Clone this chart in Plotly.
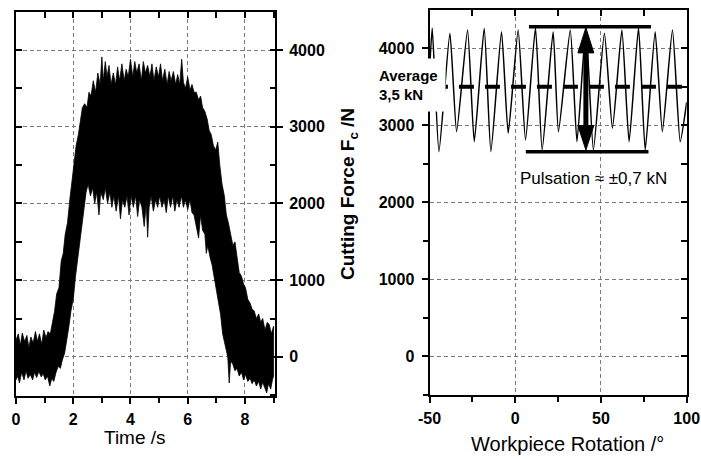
import plotly.graph_objects as go

W, H = 701, 459
FONT = "Liberation Sans, Arial, sans-serif"

# ---------------- Left panel: cutting force vs time (envelope of the noisy signal)
time_upper = [0.00, 0.08, 0.15, 0.22, 0.30, 0.38, 0.45, 0.52, 0.60, 0.68, 0.75, 0.82, 0.90, 0.97,
              1.05, 1.12, 1.20, 1.28, 1.35, 1.42, 1.50, 1.58, 1.65, 1.72, 1.80, 1.88, 1.95, 2.02,
              2.10, 2.18, 2.25, 2.32, 2.40, 2.48, 2.55, 2.62, 2.70, 2.78, 2.86, 2.94, 3.00, 3.05,
              3.12, 3.18, 3.25, 3.32, 3.40, 3.48, 3.55, 3.62, 3.70, 3.78, 3.85, 3.92, 4.00, 4.08,
              4.15, 4.22, 4.30, 4.38, 4.45, 4.52, 4.60, 4.68, 4.75, 4.82, 4.90, 4.98, 5.05, 5.12,
              5.20, 5.28, 5.35, 5.42, 5.50, 5.58, 5.65, 5.72, 5.79, 5.85, 5.92, 6.00, 6.08, 6.15,
              6.22, 6.30, 6.38, 6.45, 6.52, 6.60, 6.68, 6.75, 6.82, 6.90, 6.98, 7.05, 7.12, 7.20,
              7.28, 7.35, 7.42, 7.50, 7.58, 7.65, 7.72, 7.80, 7.88, 7.95, 8.02, 8.10, 8.18, 8.25,
              8.32, 8.40, 8.48, 8.55, 8.62, 8.70, 8.78, 8.85, 8.92, 9.00]
force_upper = [220, 300, 150, 310, 200, 280, 120, 260, 180, 330, 200, 300, 160, 350,
               250, 330, 300, 480, 600, 820, 900, 1250, 1350, 1600, 1750, 2050, 2250, 2500,
               2750, 2900, 3050, 3250, 3300, 3250, 3450, 3400, 3600, 3450, 3700, 3550, 3910, 3600,
               3850, 3650, 3800, 3550, 3700, 3550, 3780, 3600, 3820, 3600, 3750, 3650, 3880, 3650,
               3850, 3700, 3820, 3600, 3850, 3700, 3800, 3650, 3820, 3600, 3780, 3650, 3820, 3600,
               3750, 3550, 3720, 3600, 3720, 3550, 3680, 3550, 3880, 3580, 3500, 3650, 3480, 3550,
               3450, 3450, 3350, 3400, 3250, 3200, 3100, 2950, 2900, 2750, 2700, 2800, 2500, 2250,
               2100, 1850, 1750, 1600, 1450, 1500, 1300, 1100, 1050, 950, 900, 750, 700, 620,
               600, 500, 560, 450, 500, 350, 450, 420, 300, 400]

time_lower = [0.00, 0.06, 0.12, 0.20, 0.28, 0.35, 0.42, 0.50, 0.58, 0.65, 0.72, 0.80, 0.88, 0.95,
              1.02, 1.10, 1.18, 1.25, 1.32, 1.40, 1.48, 1.55, 1.62, 1.70, 1.78, 1.85, 1.92, 2.00,
              2.08, 2.15, 2.22, 2.30, 2.38, 2.45, 2.52, 2.60, 2.68, 2.75, 2.82, 2.90, 2.96, 3.05,
              3.12, 3.20, 3.28, 3.35, 3.42, 3.50, 3.58, 3.65, 3.72, 3.80, 3.88, 3.95, 4.02, 4.10,
              4.18, 4.25, 4.32, 4.40, 4.48, 4.55, 4.60, 4.65, 4.72, 4.80, 4.88, 4.95, 5.02, 5.10,
              5.18, 5.25, 5.32, 5.40, 5.48, 5.55, 5.62, 5.70, 5.78, 5.85, 5.92, 6.00, 6.08, 6.15,
              6.22, 6.30, 6.38, 6.45, 6.52, 6.60, 6.65, 6.70, 6.78, 6.85, 6.92, 7.00, 7.08, 7.15,
              7.22, 7.30, 7.40, 7.45, 7.50, 7.58, 7.65, 7.72, 7.80, 7.88, 7.95, 8.02, 8.10, 8.18,
              8.25, 8.32, 8.40, 8.48, 8.55, 8.62, 8.70, 8.76, 8.82, 8.90, 8.96, 9.00]
force_lower = [-300, -250, -340, -200, -300, -180, -280, -230, -300, -200, -270, -190, -260, -220,
               -300, -250, -380, -280, -320, -200, -120, -150, -40, 50, 250, 400, 600, 750,
               1050, 1250, 1450, 1700, 1950, 2150, 2250, 2100, 2200, 2000, 2150, 1850, 2150, 2050,
               2200, 2000, 2150, 1950, 2100, 1900, 2100, 1800, 2050, 1950, 2100, 1850, 2100, 1950,
               2100, 1830, 2050, 1950, 1700, 2000, 1560, 1950, 2100, 1900, 2050, 1950, 2100, 1950,
               2050, 1880, 2100, 1950, 2100, 1900, 2050, 1950, 2100, 1950, 2050, 1920, 2050, 1880,
               1850, 1700, 1550, 1850, 1650, 1600, 1350, 1450, 1300, 1200, 1050, 900, 700, 550,
               300, 150, 0, -340, -50, -100, -180, -150, -250, -200, -300, -230, -320, -280,
               -350, -300, -380, -320, -420, -330, -400, -470, -350, -420, -300, -250]

# ---------------- Right panel: cutting force vs workpiece rotation
rotation = [-50, -48.4, -44.5, -38.1, -34.2, -27.8, -23.9, -18.1, -14.2, -8.0, -4.1, 1.7, 6.0,
            11.8, 15.7, 22.1, 25.2, 32.1, 36.0, 41.2, 45.6, 52.0, 56.7, 62.2, 66.4, 71.9, 75.8,
            81.6, 85.8, 91.7, 96.2, 100]
force_rot = [3700, 4260, 2657, 4195, 2917, 4238, 2787, 4260, 2657, 4216, 2896, 4238, 2809,
             4268, 2679, 4216, 2917, 4238, 2787, 4260, 2679, 4195, 2961, 4238, 2787, 4268, 2679,
             4216, 2917, 4238, 2787, 3300]

average_force = 3500
pulsation_max = 4280
pulsation_min = 2657

time_ticks = [0, 2, 4, 6, 8]
force_ticks = [0, 1000, 2000, 3000, 4000]
rot_ticks = [-50, 0, 50, 100]
rot_ticklabels = ["-50", "0", "50", "100"]


def px(xp):
    return xp / W


def py(yp):
    return 1 - yp / H


LEFT_DOM = [px(16), px(275)]
LEFT_YDOM = [py(396), py(12)]
RIGHT_DOM = [px(429.5), px(686.7)]
RIGHT_YDOM = [py(395), py(10)]
TRANGE = [0, 9.05]
FRANGE_L = [-510, 4496]
RRANGE = [-50, 100]
FRANGE_R = [-503, 4497]

tickfont = dict(family=FONT, size=16, color="black", weight="bold")
GRID = dict(showgrid=True, gridcolor="#7a7a7a", gridwidth=1, griddash="4px,3px")

fig = go.Figure()
fig.add_trace(go.Scatter(
    x=time_upper + time_lower[::-1], y=force_upper + force_lower[::-1],
    mode="lines", fill="toself", fillcolor="black",
    line=dict(color="black", width=0.8), xaxis="x", yaxis="y", hoverinfo="skip",
    showlegend=False))
fig.add_trace(go.Scatter(
    x=rotation, y=force_rot, mode="lines",
    line=dict(color="black", width=1.5, shape="spline", smoothing=0.5),
    xaxis="x2", yaxis="y2", hoverinfo="skip", showlegend=False))
# empty traces so the mirrored tick axes (top / opposite side) are drawn
for xa, ya in [("x3", "y"), ("x", "y3"), ("x4", "y2"), ("x2", "y4")]:
    fig.add_trace(go.Scatter(x=[], y=[], xaxis=xa, yaxis=ya, mode="lines",
                             hoverinfo="skip", showlegend=False))

common = dict(showline=True, linecolor="black", linewidth=2, zeroline=False,
              tickcolor="black", tickwidth=2, ticklen=6, automargin=False)

fig.update_layout(
    width=W, height=H, autosize=False,
    margin=dict(l=0, r=0, t=0, b=0, pad=0),
    paper_bgcolor="white", plot_bgcolor="white",
    showlegend=False,
    font=dict(family=FONT, color="black"),
    xaxis=dict(domain=LEFT_DOM, range=TRANGE, anchor="y", side="bottom",
               tickmode="array", tickvals=time_ticks, ticks="outside",
               tickfont=tickfont, ticklabelstandoff=2,
               minor=dict(dtick=1, tick0=0, ticks="outside", ticklen=5, tickwidth=2,
                          tickcolor="black", showgrid=False),
               **GRID, **common),
    xaxis3=dict(overlaying="x", range=TRANGE, anchor="y", side="top",
                tickmode="linear", tick0=0, dtick=1, ticks="inside",
                showticklabels=False, showgrid=False, **common),
    yaxis=dict(domain=LEFT_YDOM, range=FRANGE_L, anchor="x", side="right",
               tickmode="array", tickvals=force_ticks, ticks="outside",
               tickfont=tickfont, tickformat="d", ticklabelstandoff=3,
               minor=dict(dtick=500, tick0=0, ticks="inside", ticklen=5, tickwidth=2,
                          tickcolor="black", showgrid=False),
               **GRID, **common),
    yaxis3=dict(overlaying="y", range=FRANGE_L, anchor="x", side="left",
                tickmode="linear", tick0=0, dtick=500, ticks="inside",
                showticklabels=False, showgrid=False, **common),
    xaxis2=dict(domain=RIGHT_DOM, range=RRANGE, anchor="y2", side="bottom",
                tickmode="array", tickvals=rot_ticks, ticktext=rot_ticklabels,
                ticks="outside", tickfont=tickfont, ticklabelstandoff=2,
                minor=dict(tickmode="array", tickvals=[-25, 25, 75], ticks="outside",
                           ticklen=5, tickwidth=2, tickcolor="black", showgrid=False),
                **GRID, **common),
    xaxis4=dict(overlaying="x2", range=RRANGE, anchor="y2", side="top",
                tickmode="linear", tick0=-50, dtick=25, ticks="inside",
                showticklabels=False, showgrid=False, **common),
    yaxis2=dict(domain=RIGHT_YDOM, range=FRANGE_R, anchor="x2", side="left",
                tickmode="array", tickvals=force_ticks, ticks="outside",
                tickfont=tickfont, tickformat="d", ticklabelstandoff=4,
                minor=dict(dtick=500, tick0=0, ticks="outside", ticklen=5, tickwidth=2,
                           tickcolor="black", showgrid=False),
                **GRID, **common),
    yaxis4=dict(overlaying="y2", range=FRANGE_R, anchor="x2", side="right",
                tickmode="linear", tick0=0, dtick=500, ticks="inside",
                showticklabels=False, showgrid=False, **common),
)

# ---- annotations in the right panel (average line, pulsation bars, double arrow)
arrow_x = 41.2
head_half = 4.65
head_len = 340
shapes = [
    dict(type="line", xref="x2", yref="y2", x0=-48, x1=100, y0=average_force, y1=average_force,
         line=dict(color="black", width=4, dash="15px,11px")),
    dict(type="line", xref="x2", yref="y2", x0=8.0, x1=79.2, y0=pulsation_max, y1=pulsation_max,
         line=dict(color="black", width=3.5)),
    dict(type="line", xref="x2", yref="y2", x0=6.2, x1=77.7, y0=pulsation_min, y1=pulsation_min,
         line=dict(color="black", width=3.5)),
    dict(type="line", xref="x2", yref="y2", x0=arrow_x, x1=arrow_x,
         y0=pulsation_min + head_len - 20, y1=pulsation_max - head_len + 20,
         line=dict(color="black", width=5)),
    dict(type="path", xref="x2", yref="y2", fillcolor="black", line=dict(color="black", width=1),
         path=f"M {arrow_x},{pulsation_max - 12} L {arrow_x - head_half},{pulsation_max - head_len} "
              f"L {arrow_x + head_half},{pulsation_max - head_len} Z"),
    dict(type="path", xref="x2", yref="y2", fillcolor="black", line=dict(color="black", width=1),
         path=f"M {arrow_x},{pulsation_min + 22} L {arrow_x - head_half},{pulsation_min + head_len} "
              f"L {arrow_x + head_half},{pulsation_min + head_len} Z"),
]
fig.update_layout(shapes=shapes)

annotations = [
    dict(text="<b>Average<br>3,5 kN</b>", xref="paper", yref="paper",
         x=px(411), y=py(85), xanchor="center", yanchor="middle", showarrow=False,
         width=64, height=48, align="left", bgcolor="white", borderpad=2,
         font=dict(family=FONT, size=15, color="black")),
    dict(text="Pulsation ≈ ±0,7 kN", xref="paper", yref="paper",
         x=px(593.5), y=py(178), xanchor="center", yanchor="middle", showarrow=False,
         font=dict(family=FONT, size=17, color="black")),
    dict(text="Time /s", xref="paper", yref="paper", x=px(135), y=py(437),
         xanchor="center", yanchor="middle", showarrow=False,
         font=dict(family=FONT, size=19, color="black")),
    dict(text="Workpiece Rotation /°", xref="paper", yref="paper", x=px(567), y=py(444),
         xanchor="center", yanchor="middle", showarrow=False,
         font=dict(family=FONT, size=20, color="black")),
    dict(text="<b>Cutting Force F<sub>c</sub> /N</b>", xref="paper", yref="paper",
         x=px(349), y=py(194), xanchor="center", yanchor="middle", showarrow=False,
         textangle=-90, font=dict(family=FONT, size=19, color="black")),
]
fig.update_layout(annotations=annotations)

fig.write_html(
    "out.html",
    config={"displayModeBar": False, "staticPlot": True},
    post_script="document.body.style.margin='0';document.body.style.padding='0';"
                "document.documentElement.style.overflow='hidden';",
)
